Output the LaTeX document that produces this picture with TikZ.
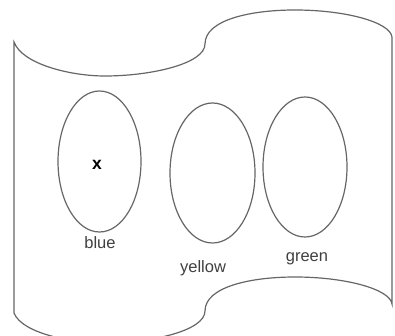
\documentclass[tikz,border=0pt]{standalone}
\usepackage{fontspec}
\setmainfont{Liberation Sans}
\begin{document}
\begin{tikzpicture}[x=1pt,y=-1pt,
  outline/.style={draw=black!60,line width=1.2pt},
  setline/.style={draw=black!60,line width=1.2pt},
  lbl/.style={font=\fontsize{16.5}{18}\selectfont,text=black!75,inner sep=0pt},
  xmark/.style={font=\fontsize{17.5}{18}\selectfont\bfseries,inner sep=0pt}]
\useasboundingbox (0,0) rectangle (395,336);
\begin{scope}
\clip (0,0) rectangle (395,336);
\draw[outline] (14,42) .. controls (22,64) and (70,76) .. (105,76)
  .. controls (150,76) and (205,64) .. (205,44)
  .. controls (205,20) and (250,10) .. (295,10)
  .. controls (345,10) and (390,22) .. (392,37)
  -- (392,304)
  .. controls (390,289) and (345,277) .. (295,277)
  .. controls (250,277) and (205,287) .. (205,311)
  .. controls (205,331) and (150,343) .. (105,343)
  .. controls (70,343) and (22,333) .. (14,313)
  -- cycle;
\end{scope}
\draw[setline] (99.5,161.5) ellipse [x radius=41.5, y radius=70.5];
\node (blueset) at (99.5,161.5) [minimum width=83pt,minimum height=141pt] {};
\draw[setline] (212.5,173) ellipse [x radius=42.5, y radius=70];
\node (yellowset) at (212.5,173) [minimum width=85pt,minimum height=140pt] {};
\draw[setline] (305,167) ellipse [x radius=42, y radius=70];
\node (greenset) at (305,167) [minimum width=84pt,minimum height=140pt] {};
\node[xmark] (x) at (97,165) {x};
\node[lbl] (blue) at (100,243) {blue};
\node[lbl] (yellow) at (203,268) {yellow};
\node[lbl] (green) at (307,259) {green};
\end{tikzpicture}
\end{document}
